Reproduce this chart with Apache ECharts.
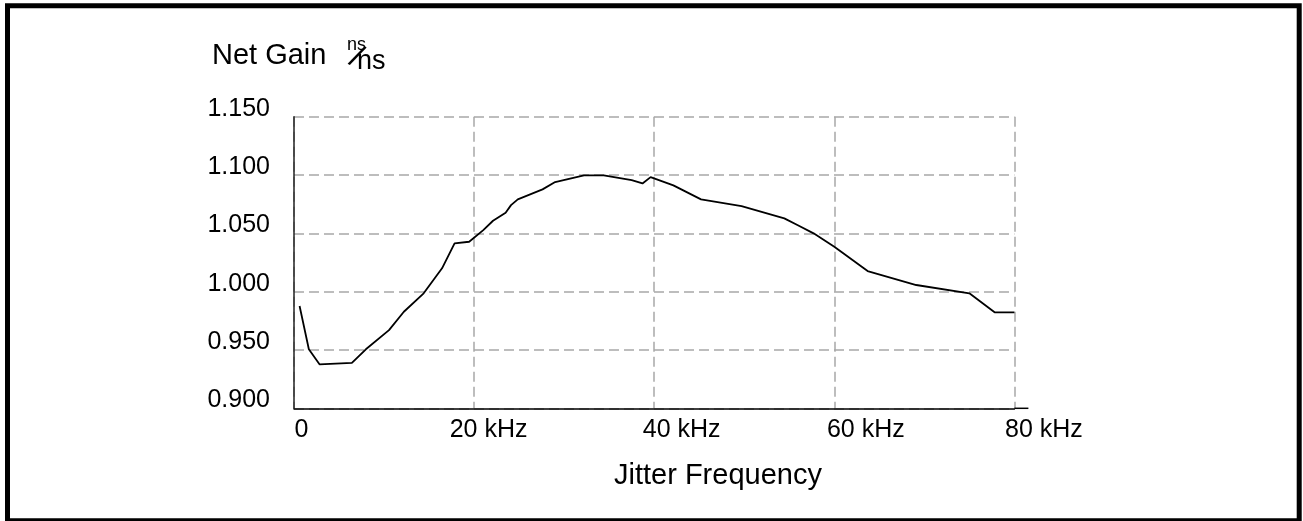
<!DOCTYPE html>
<html>
<head>
<meta charset="utf-8">
<script src="https://cdn.jsdelivr.net/npm/echarts@6/dist/echarts.min.js"></script>
<style>
  html, body { margin: 0; padding: 0; background: #fff; }
  #chart { width: 1303px; height: 521px; }
</style>
</head>
<body>
<div id="chart"></div>
<script>
// ---- data ----
const xValues = [0.62, 1.65, 2.83, 6.43, 7.98, 10.55, 12.2, 14.4, 16.44, 17.83, 19.45, 21.02, 22.1, 23.5, 24.1, 24.85, 27.6, 29.0, 32.2, 34.4, 37.5, 38.7, 39.6, 42.13, 45.2, 49.7, 54.45, 55.9, 57.7, 60.0, 63.7, 69.1, 75.0, 77.8, 80.0];
const gainValues = [0.9877, 0.9506, 0.9377, 0.939, 0.9506, 0.967, 0.9828, 0.9986, 1.020, 1.0414, 1.0428, 1.0528, 1.0608, 1.0677, 1.0742, 1.0791, 1.0877, 1.094, 1.0997, 1.0997, 1.0957, 1.0928, 1.0982, 1.0911, 1.0791, 1.0734, 1.0628, 1.0571, 1.050, 1.0385, 1.0177, 1.0057, 0.9986, 0.9823, 0.9823];
const xTickLabels = ['0', '20 kHz', '40 kHz', '60 kHz', '80 kHz'];
const yAxisTitle = 'Net Gain';
const yUnitTop = 'ns';
const yUnitSlash = '/';
const yUnitBottom = 'ns';
const xAxisTitle = 'Jitter Frequency';

const FONT = '"Liberation Sans", Arial, Helvetica, sans-serif';
const points = xValues.map((x, i) => [x, gainValues[i]]);

// per-label horizontal nudges (left padding) to match the reference label placement
const labelPad = [15, 29, 55, 63, 59];
const rich = {};
labelPad.forEach((p, i) => {
  rich['t' + i] = { fontFamily: FONT, fontSize: 25, color: '#000', padding: [0, 0, 0, p] };
});

const chart = echarts.init(document.getElementById('chart'), null, { renderer: 'canvas' });
const option = {
  backgroundColor: '#fff',
  animation: false,
  title: [
    { text: yAxisTitle, left: 207, top: 36, textStyle: { fontFamily: FONT, fontSize: 29, fontWeight: 'normal', color: '#000' } },
    { text: yUnitTop, left: 342, top: 31, textStyle: { fontFamily: FONT, fontSize: 18, fontWeight: 'normal', color: '#000' } },
    { text: yUnitBottom, left: 352, top: 43, textStyle: { fontFamily: FONT, fontSize: 27, fontWeight: 'normal', color: '#000' } },
    { text: xAxisTitle, left: 609, top: 456, textStyle: { fontFamily: FONT, fontSize: 29, fontWeight: 'normal', color: '#000' } }
  ],
  grid: { left: 294, top: 116.7, width: 720.4, bottom: 112.7, containLabel: false },
  xAxis: {
    type: 'value',
    min: 0, max: 80, interval: 20,
    axisLine: { show: true, onZero: false, lineStyle: { color: '#000', width: 1.5 } },
    axisTick: { show: false },
    splitLine: { show: true, lineStyle: { color: '#a8a8a8', width: 1.5, type: [10, 5] } },
    axisLabel: {
      margin: 9,
      fontFamily: FONT, fontSize: 25, color: '#000',
      formatter: function (v) {
        const i = Math.round(v / 20);
        return '{t' + i + '|' + xTickLabels[i] + '}';
      },
      rich: rich
    }
  },
  yAxis: {
    type: 'value',
    min: 0.9, max: 1.15, interval: 0.05,
    axisLine: { show: true, lineStyle: { color: '#222', width: 1.5 } },
    axisTick: { show: false },
    splitLine: { show: true, lineStyle: { color: '#a8a8a8', width: 1.5, type: [10, 5] } },
    axisLabel: {
      margin: 24,
      fontFamily: FONT, fontSize: 25, color: '#000',
      verticalAlign: 'bottom',
      lineHeight: 16,
      formatter: function (v) { return v.toFixed(3); }
    }
  },
  series: [{
    type: 'line',
    data: points,
    showSymbol: false,
    smooth: false,
    lineStyle: { color: '#000', width: 1.8 },
    z: 5
  }]
};
chart.setOption(option);

// frame, unit slash and axis-line extension
const p80 = chart.convertToPixel({ gridIndex: 0 }, [80, 0.9]);
chart.setOption({
  graphic: [
    { type: 'rect', shape: { x: 7.5, y: 5.8, width: 1291.7, height: 515 }, style: { fill: 'none', stroke: '#000', lineWidth: 5 }, silent: true },
    { type: 'line', shape: { x1: p80[0], y1: p80[1], x2: p80[0] + 14, y2: p80[1] }, style: { stroke: '#000', lineWidth: 1.5 }, silent: true },
    { type: 'text', x: 356, y: 58, rotation: -0.5, silent: true,
      style: { text: yUnitSlash, x: 0, y: 0, align: 'center', verticalAlign: 'middle', textAlign: 'center', textVerticalAlign: 'middle',
               fontFamily: FONT, fontSize: 32, fill: '#000' } }
  ]
});
</script>
</body>
</html>
